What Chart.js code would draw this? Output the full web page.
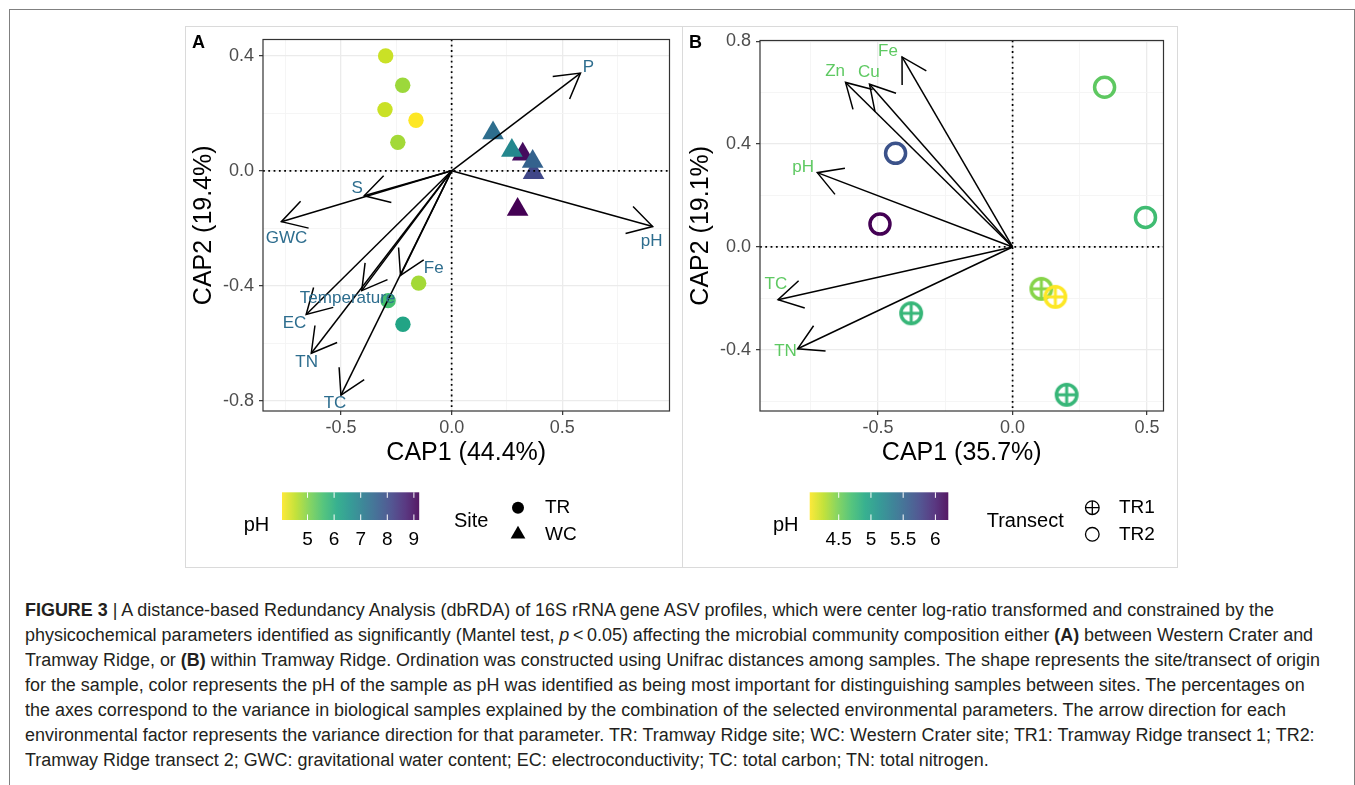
<!DOCTYPE html>
<html>
<head>
<meta charset="utf-8">
<script src="https://cdn.jsdelivr.net/npm/chart.js@4.4.0/dist/chart.umd.min.js"></script>
<style>
  body { margin: 0; width: 1355px; height: 785px; overflow: hidden; background: #fff;
         font-family: "Liberation Sans", Arial, Helvetica, sans-serif; }
  #frame { position: absolute; left: 9px; top: 9px; width: 1344px; height: 800px; border: 1px solid #808080; }
  .panel { position: absolute; top: 26px; height: 540px; border: 1px solid #dadada; }
  #panelA { left: 185px; width: 496px; }
  #panelB { left: 682px; width: 494px; }
  canvas { display: block; }
  #caption { position: absolute; left: 25px; top: 598px; color: #231f20; white-space: nowrap;
             font-family: "Liberation Sans Narrow", "Liberation Sans", Arial, sans-serif;
             font-size: 18px; transform-origin: 0 0; }
  #caption div { height: 25px; line-height: 25px; }
</style>
</head>
<body>
<div id="frame"></div>
<div class="panel" id="panelA"><canvas id="chartA" width="496" height="540"></canvas></div>
<div class="panel" id="panelB"><canvas id="chartB" width="494" height="540"></canvas></div>
<div id="caption">
  <div><b>FIGURE 3</b> | A distance-based Redundancy Analysis (dbRDA) of 16S rRNA gene ASV profiles, which were center log-ratio transformed and constrained by the</div>
  <div>physicochemical parameters identified as significantly (Mantel test, <i>p</i>&thinsp;&lt;&thinsp;0.05) affecting the microbial community composition either <b>(A)</b> between Western Crater and</div>
  <div>Tramway Ridge, or <b>(B)</b> within Tramway Ridge. Ordination was constructed using Unifrac distances among samples. The shape represents the site/transect of origin</div>
  <div>for the sample, color represents the pH of the sample as pH was identified as being most important for distinguishing samples between sites. The percentages on</div>
  <div>the axes correspond to the variance in biological samples explained by the combination of the selected environmental parameters. The arrow direction for each</div>
  <div>environmental factor represents the variance direction for that parameter. TR: Tramway Ridge site; WC: Western Crater site; TR1: Tramway Ridge transect 1; TR2:</div>
  <div>Tramway Ridge transect 2; GWC: gravitational water content; EC: electroconductivity; TC: total carbon; TN: total nitrogen.</div>
</div>
<script>
// ---- Panel A: Western Crater vs Tramway Ridge ----
const trCap1 = [-0.298, -0.221, -0.301, -0.161, -0.243, -0.149, -0.287, -0.220];
const trCap2 = [0.400, 0.298, 0.213, 0.176, 0.099, -0.391, -0.452, -0.534];
const trPh = [4.45, 4.81, 4.45, 4.04, 4.76, 4.76, 5.59, 6.20];

const wcCap1 = [0.321, 0.370, 0.187, 0.272, 0.366, 0.298];
const wcCap2 = [0.058, -0.007, 0.132, 0.071, 0.032, -0.135];
const wcPh = [9.04, 8.11, 7.34, 6.82, 7.59, 9.20];

const envA = ['P', 'pH', 'S', 'GWC', 'Fe', 'Temperature', 'EC', 'TN', 'TC'];
const envACap1 = [0.582, 0.908, -0.395, -0.769, -0.231, -0.406, -0.657, -0.634, -0.500];
const envACap2 = [0.340, -0.194, -0.087, -0.177, -0.364, -0.417, -0.500, -0.635, -0.781];
const envALabelCap1 = [0.618, 0.903, -0.427, -0.746, -0.081, -0.470, -0.710, -0.655, -0.527];
const envALabelCap2 = [0.360, -0.244, -0.061, -0.236, -0.339, -0.443, -0.532, -0.666, -0.808];

const xMajorA = [-0.5, 0, 0.5];
const xMinorA = [-0.75, -0.25, 0.25, 0.75];
const yMajorA = [-0.8, -0.4, 0, 0.4];
const yMinorA = [-0.6, -0.2, 0.2];
const phTicksA = [5, 6, 7, 8, 9];

// ---- Panel B: within Tramway Ridge ----
const tr1Cap1 = [-0.377, 0.107, 0.159, 0.201];
const tr1Cap2 = [-0.258, -0.163, -0.194, -0.575];
const tr1Ph = [4.78, 4.44, 4.05, 4.78];

const tr2Cap1 = [0.342, 0.494, -0.435, -0.493];
const tr2Cap2 = [0.621, 0.115, 0.364, 0.089];
const tr2Ph = [4.59, 4.72, 5.66, 6.20];

const envB = ['Fe', 'Zn', 'Cu', 'pH', 'TC', 'TN'];
const envBCap1 = [-0.411, -0.621, -0.532, -0.726, -0.872, -0.799];
const envBCap2 = [0.739, 0.640, 0.633, 0.289, -0.205, -0.396];
const envBLabelCap1 = [-0.463, -0.660, -0.534, -0.779, -0.880, -0.844];
const envBLabelCap2 = [0.760, 0.683, 0.680, 0.311, -0.147, -0.407];

const xMajorB = [-0.5, 0, 0.5];
const xMinorB = [-0.75, -0.25, 0.25];
const yMajorB = [-0.4, 0, 0.4, 0.8];
const yMinorB = [-0.6, -0.2, 0.2, 0.6];
const phTicksB = [4.5, 5, 5.5, 6];

const FONT = "'Liberation Sans', Arial, Helvetica, sans-serif";

// viridis palette, low pH = yellow, high pH = purple
const VIRIDIS = ['#440154', '#482475', '#414487', '#355f8d', '#2a788e', '#21918c',
                 '#22a884', '#44bf70', '#7ad151', '#bddf26', '#fde725'];
function hexRgb(h) { return [1, 3, 5].map(i => parseInt(h.slice(i, i + 2), 16)); }
function viridis(t) {
    t = Math.min(1, Math.max(0, t));
    const s = t * 10, i = Math.min(9, Math.floor(s)), f = s - i;
    const a = hexRgb(VIRIDIS[i]), b = hexRgb(VIRIDIS[i + 1]);
    const c = a.map((v, k) => Math.round(v + (b[k] - v) * f));
    return `rgb(${c[0]},${c[1]},${c[2]})`;
}
function phColor(p, lo, hi) { return viridis(1 - (p - lo) / (hi - lo)); }

const rangeA = [Math.min(...trPh, ...wcPh), Math.max(...trPh, ...wcPh)];
const rangeB = [Math.min(...tr1Ph, ...tr2Ph), Math.max(...tr1Ph, ...tr2Ph)];

function pts(xs, ys) { return xs.map((x, i) => ({ x, y: ys[i] })); }

// ⊕ marker for transect TR1
function ringCross(color) {
    const c = document.createElement('canvas');
    c.width = c.height = 28;
    const g = c.getContext('2d');
    g.strokeStyle = color;
    g.lineWidth = 3.5;
    g.beginPath(); g.arc(14, 14, 10.2, 0, Math.PI * 2); g.stroke();
    g.lineWidth = 3;
    g.beginPath();
    g.moveTo(14, 3.8); g.lineTo(14, 24.2);
    g.moveTo(3.8, 14); g.lineTo(24.2, 14);
    g.stroke();
    return c;
}

function makeAxis(isX, min, max, major, minor, title) {
    const all = major.concat(minor).sort((a, b) => a - b);
    const isMajor = v => major.some(m => Math.abs(m - v) < 1e-9);
    return {
        type: 'linear',
        position: isX ? 'bottom' : 'left',
        min, max,
        afterBuildTicks: s => { s.ticks = all.map(v => ({ value: v })); },
        afterFit: s => {
            if (isX) s.height = 57; else s.width = 77;
            s.paddingTop = s.paddingBottom = s.paddingLeft = s.paddingRight = 0;
        },
        border: { display: false },
        grid: {
            color: c => isMajor(c.tick.value) ? '#ebebeb' : '#f4f4f4',
            lineWidth: c => isMajor(c.tick.value) ? 1.3 : 0.9,
            tickColor: c => isMajor(c.tick.value) ? '#333333' : 'rgba(0,0,0,0)',
            tickLength: 4,
            tickWidth: 1.2
        },
        ticks: {
            autoSkip: false,
            maxRotation: 0,
            padding: isX ? 2 : 5,
            color: '#4d4d4d',
            font: { family: FONT, size: 18 },
            callback: v => isMajor(v) ? v.toFixed(1) : ''
        },
        title: {
            display: true,
            text: title,
            color: '#000000',
            font: { family: FONT, size: 25, lineHeight: 1.2 },
            padding: isX ? { top: 0, bottom: 0 } : { top: 3, bottom: 0 }
        }
    };
}

function drawArrow(ctx, x0, y0, x1, y1) {
    const ang = Math.atan2(y1 - y0, x1 - x0);
    const len = 28, spread = Math.PI / 6;
    ctx.beginPath();
    ctx.moveTo(x0, y0);
    ctx.lineTo(x1, y1);
    ctx.stroke();
    ctx.beginPath();
    ctx.moveTo(x1 + len * Math.cos(ang + Math.PI - spread), y1 + len * Math.sin(ang + Math.PI - spread));
    ctx.lineTo(x1, y1);
    ctx.lineTo(x1 + len * Math.cos(ang + Math.PI + spread), y1 + len * Math.sin(ang + Math.PI + spread));
    ctx.stroke();
}

function drawKeyShape(ctx, kind, x, y) {
    ctx.save();
    ctx.fillStyle = '#000';
    ctx.strokeStyle = '#000';
    ctx.lineWidth = 1.3;
    if (kind === 'dot') {
        ctx.beginPath(); ctx.arc(x, y, 6, 0, Math.PI * 2); ctx.fill();
    } else if (kind === 'tri') {
        const r = 8.5;
        ctx.beginPath();
        ctx.moveTo(x, y - r);
        ctx.lineTo(x + r * Math.sin(Math.PI / 3), y + r / 2);
        ctx.lineTo(x - r * Math.sin(Math.PI / 3), y + r / 2);
        ctx.closePath(); ctx.fill();
    } else {
        ctx.beginPath(); ctx.arc(x, y, 6.8, 0, Math.PI * 2); ctx.stroke();
        if (kind === 'plus') {
            ctx.beginPath();
            ctx.moveTo(x - 6.8, y); ctx.lineTo(x + 6.8, y);
            ctx.moveTo(x, y - 6.8); ctx.lineTo(x, y + 6.8);
            ctx.stroke();
        }
    }
    ctx.restore();
}

// zero lines, arrows, labels, border, panel tag and legends
function biplotPlugin(spec) {
    return {
        id: 'biplot',
        afterDatasetsDraw(chart) {
            const { ctx, chartArea: a, scales: { x, y } } = chart;
            const x0 = x.getPixelForValue(0), y0 = y.getPixelForValue(0);

            ctx.save();
            ctx.strokeStyle = '#000';
            ctx.lineWidth = 1.7;
            ctx.setLineDash([1.8, 3.5]);
            ctx.beginPath();
            ctx.moveTo(x0, a.top); ctx.lineTo(x0, a.bottom);
            ctx.moveTo(a.left, y0); ctx.lineTo(a.right, y0);
            ctx.stroke();
            ctx.restore();

            ctx.save();
            ctx.strokeStyle = '#000';
            ctx.lineWidth = 1.5;
            ctx.lineJoin = 'miter';
            spec.names.forEach((n, i) => {
                drawArrow(ctx, x0, y0, x.getPixelForValue(spec.ax[i]), y.getPixelForValue(spec.ay[i]));
            });
            ctx.fillStyle = spec.labelColor;
            ctx.font = `17px ${FONT}`;
            ctx.textAlign = 'center';
            ctx.textBaseline = 'middle';
            spec.names.forEach((n, i) => {
                ctx.fillText(n, x.getPixelForValue(spec.lx[i]), y.getPixelForValue(spec.ly[i]));
            });
            ctx.restore();

            ctx.save();
            ctx.strokeStyle = '#333333';
            ctx.lineWidth = 1.2;
            ctx.strokeRect(a.left, a.top, a.right - a.left, a.bottom - a.top);
            ctx.restore();
        },
        afterDraw(chart) {
            const ctx = chart.ctx;
            const L = spec.legend;
            ctx.save();
            ctx.fillStyle = '#000';
            ctx.font = `bold 18px ${FONT}`;
            ctx.textAlign = 'left';
            ctx.textBaseline = 'alphabetic';
            ctx.fillText(spec.tag, 6, 21);

            // colour bar
            const [lo, hi] = spec.range;
            const g = ctx.createLinearGradient(L.barX, 0, L.barX + L.barW, 0);
            for (let k = 0; k <= 20; k++) g.addColorStop(k / 20, viridis(1 - k / 20));
            ctx.globalAlpha = 0.9;
            ctx.fillStyle = g;
            ctx.fillRect(L.barX, L.barY, L.barW, L.barH);
            ctx.globalAlpha = 1;
            ctx.strokeStyle = '#ffffff';
            ctx.lineWidth = 1;
            ctx.fillStyle = '#000';
            ctx.font = `19px ${FONT}`;
            ctx.textAlign = 'center';
            ctx.textBaseline = 'middle';
            spec.phTicks.forEach(t => {
                const px = L.barX + (t - lo) / (hi - lo) * L.barW;
                ctx.beginPath();
                ctx.moveTo(px, L.barY); ctx.lineTo(px, L.barY + L.barH / 5);
                ctx.moveTo(px, L.barY + L.barH); ctx.lineTo(px, L.barY + L.barH * 4 / 5);
                ctx.stroke();
                ctx.fillText(String(t), px, L.tickY);
            });
            ctx.font = `20px ${FONT}`;
            ctx.fillText('pH', L.phX, L.titleY + 4);

            // shape key
            ctx.textAlign = 'left';
            ctx.fillText(spec.keyTitle, L.keyTitleX, L.titleY);
            ctx.font = `19px ${FONT}`;
            spec.keyNames.forEach((n, i) => {
                drawKeyShape(ctx, spec.keyShapes[i], L.symX, L.rowY[i]);
                ctx.fillText(n, L.textX, L.rowY[i]);
            });
            ctx.restore();
        }
    };
}

function makeChart(id, datasets, xAxis, yAxis, padRight, spec) {
    return new Chart(document.getElementById(id), {
        type: 'scatter',
        data: { datasets },
        options: {
            responsive: false,
            animation: false,
            events: [],
            layout: { padding: { left: 0, right: padRight, top: 8, bottom: 99 } },
            plugins: { legend: { display: false }, tooltip: { enabled: false } },
            scales: { x: xAxis, y: yAxis }
        },
        plugins: [biplotPlugin(spec)]
    });
}

makeChart('chartA', [
    {
        label: 'TR',
        data: pts(trCap1, trCap2),
        pointStyle: 'circle',
        pointRadius: 7.7,
        pointBorderWidth: 0,
        pointBackgroundColor: trPh.map(p => phColor(p, rangeA[0], rangeA[1]))
    },
    {
        label: 'WC',
        data: pts(wcCap1, wcCap2),
        pointStyle: 'triangle',
        pointRadius: 12.5,
        pointBorderWidth: 0,
        pointBackgroundColor: wcPh.map(p => phColor(p, rangeA[0], rangeA[1]))
    }
],
    makeAxis(true, -0.852, 0.984, xMajorA, xMinorA, 'CAP1 (44.4%)'),
    makeAxis(false, -0.836, 0.457, yMajorA, yMinorA, 'CAP2 (19.4%)'),
    9,
    {
        tag: 'A', names: envA, ax: envACap1, ay: envACap2, lx: envALabelCap1, ly: envALabelCap2,
        labelColor: '#2d6d8e', range: rangeA, phTicks: phTicksA,
        keyTitle: 'Site', keyNames: ['TR', 'WC'], keyShapes: ['dot', 'tri'],
        legend: { barX: 96, barY: 465.3, barW: 137.2, barH: 27.7, tickY: 513, phX: 70.5, titleY: 494,
                  keyTitleX: 268, symX: 332, textX: 359, rowY: [480.7, 507.3] }
    });

makeChart('chartB', [
    {
        label: 'TR1',
        data: pts(tr1Cap1, tr1Cap2),
        pointStyle: tr1Ph.map(p => ringCross(phColor(p, rangeB[0], rangeB[1]))),
        pointRadius: 12
    },
    {
        label: 'TR2',
        data: pts(tr2Cap1, tr2Cap2),
        pointStyle: 'circle',
        pointRadius: 10,
        pointBorderWidth: 3.5,
        pointBackgroundColor: 'rgba(0,0,0,0)',
        pointBorderColor: tr2Ph.map(p => phColor(p, rangeB[0], rangeB[1]))
    }
],
    makeAxis(true, -0.939, 0.561, xMajorB, xMinorB, 'CAP1 (35.7%)'),
    makeAxis(false, -0.638, 0.803, yMajorB, yMinorB, 'CAP2 (19.1%)'),
    7,
    {
        tag: 'B', names: envB, ax: envBCap1, ay: envBCap2, lx: envBLabelCap1, ly: envBLabelCap2,
        labelColor: '#5ec962', range: rangeB, phTicks: phTicksB,
        keyTitle: 'Transect', keyNames: ['TR1', 'TR2'], keyShapes: ['plus', 'ring'],
        legend: { barX: 126.7, barY: 465.3, barW: 138.6, barH: 27.7, tickY: 513, phX: 102.7, titleY: 494,
                  keyTitleX: 303.7, symX: 409.3, textX: 436, rowY: [480.7, 507.3] }
    });

// fit the caption block to the width of the printed caption
const cap = document.getElementById('caption');
const widest = Math.max(...Array.from(cap.children).map(d => {
    const r = document.createRange(); r.selectNodeContents(d); return r.getBoundingClientRect().width;
}));
cap.style.transform = `scaleX(${1295 / widest})`;
</script>
</body>
</html>
